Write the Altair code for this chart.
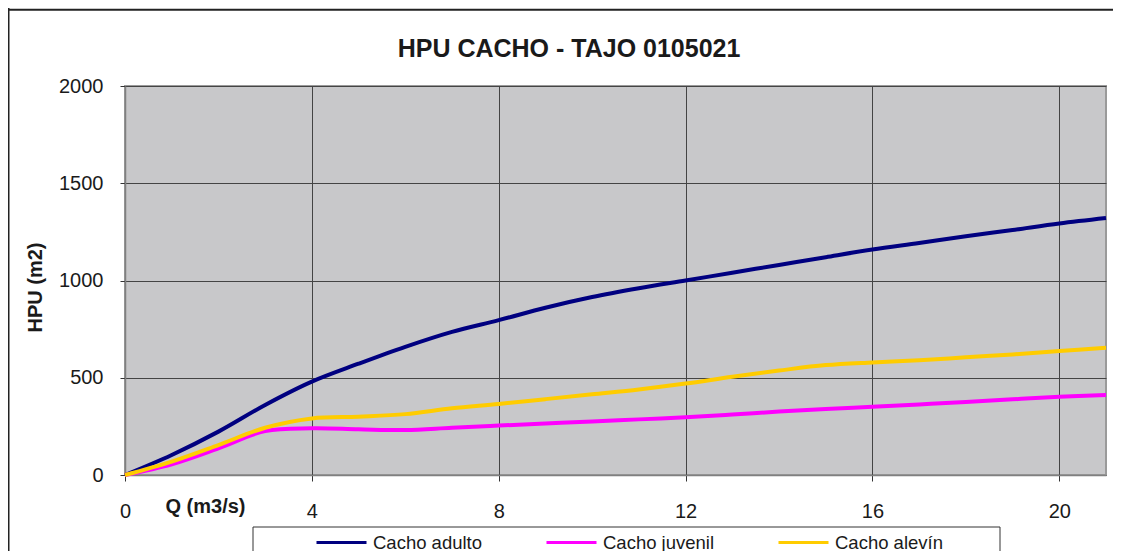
import altair as alt
import pandas as pd

# ---- data ----
q_values = [0, 1, 2, 3, 4, 5, 6, 7, 8, 9, 10, 11, 12, 13, 14, 15, 16, 17, 18, 19, 20, 21]
adulto = [0, 103, 223, 360, 480, 572, 659, 736, 796, 860, 915, 960, 1000, 1040, 1080, 1120, 1159, 1193, 1228, 1260, 1293, 1321]
juvenil = [0, 55, 137, 226, 240, 235, 231, 243, 254, 265, 275, 286, 297, 311, 326, 339, 351, 363, 375, 389, 402, 411]
alevin = [0, 69, 154, 243, 291, 300, 313, 343, 365, 390, 415, 440, 470, 505, 537, 565, 579, 590, 605, 620, 637, 654]
series_names = ["Cacho adulto", "Cacho juvenil", "Cacho alevín"]
series_colors = ["#000080", "#FF00FF", "#FFCC00"]
x_ticks = [0, 4, 8, 12, 16, 20]
y_ticks = [0, 500, 1000, 1500, 2000]
chart_title = "HPU CACHO - TAJO 0105021"

rows = []
for name, vals in zip(series_names, [adulto, juvenil, alevin]):
    for qv, v in zip(q_values, vals):
        rows.append({"Q": qv, "HPU": v, "serie": name})
df = pd.DataFrame(rows)

W, H = 981, 389
FONT = "Liberation Sans"

lines = alt.Chart(df).mark_line(strokeWidth=4, interpolate="catmull-rom").encode(
    x=alt.X("Q:Q", scale=alt.Scale(domain=[0, 21], nice=False, zero=True),
            axis=alt.Axis(values=x_ticks, title="Q (m3/s)", tickSize=6, labelPadding=20,
                          labelFlush=False, format="d",
                          titleX=80, titleY=31, titleAlign="center", titleBaseline="middle")),
    y=alt.Y("HPU:Q", scale=alt.Scale(domain=[0, 2000], nice=False),
            axis=alt.Axis(values=y_ticks, title="HPU (m2)", tickSize=5, labelPadding=17,
                          labelFlush=False, format="d",
                          titleX=-90, titleY=201, titleAngle=270, titleAlign="center",
                          titleBaseline="middle")),
    color=alt.Color("serie:N", scale=alt.Scale(domain=series_names, range=series_colors),
                    legend=alt.Legend(title=None, orient="none", legendX=190, legendY=430,
                                      direction="horizontal", symbolType="stroke",
                                      symbolSize=2500, symbolStrokeWidth=3,
                                      labelFontSize=18.5, labelOffset=5, columnPadding=57,
                                      padding=0, labelColor="#1a1a1a", labelFont=FONT)),
)

one = pd.DataFrame({"t": [chart_title]})

title_txt = alt.Chart(one).mark_text(fontSize=25, fontWeight="bold", font=FONT,
                                     color="#1a1a1a", align="center", baseline="middle").encode(
    text="t:N", x=alt.value(444), y=alt.value(-37))

outer_top = alt.Chart(one).mark_rule(color="#222222", strokeWidth=2).encode(
    x=alt.value(-120), x2=alt.value(1000), y=alt.value(-76.3))
outer_left = alt.Chart(one).mark_rule(color="#222222", strokeWidth=2).encode(
    x=alt.value(-116.5), y=alt.value(-80), y2=alt.value(500))

legend_box = alt.Chart(one).mark_rect(fill="white", stroke="#333333", strokeWidth=1).encode(
    x=alt.value(128), x2=alt.value(875), y=alt.value(441), y2=alt.value(600))

chart = alt.layer(outer_top, outer_left, legend_box, lines, title_txt).properties(
    width=W, height=H,
    autosize=alt.AutoSizeParams(type="none"),
    padding={"left": 117, "top": 78, "right": 7, "bottom": 76},
    background="white",
).configure(font=FONT).configure_view(
    fill="#C8C8CA", stroke="#9a9a9a", strokeWidth=2
).configure_axis(
    grid=True, gridColor="#444444", gridWidth=1, gridOpacity=1,
    domainColor="#808080", domainWidth=1.5,
    tickColor="#333333", tickWidth=1,
    labelFontSize=20, labelColor="#1a1a1a", labelFont=FONT,
    titleFontSize=20, titleFontWeight="bold", titleColor="#1a1a1a", titleFont=FONT,
)

chart.save("out.html", embed_options={"renderer": "svg", "actions": False})
